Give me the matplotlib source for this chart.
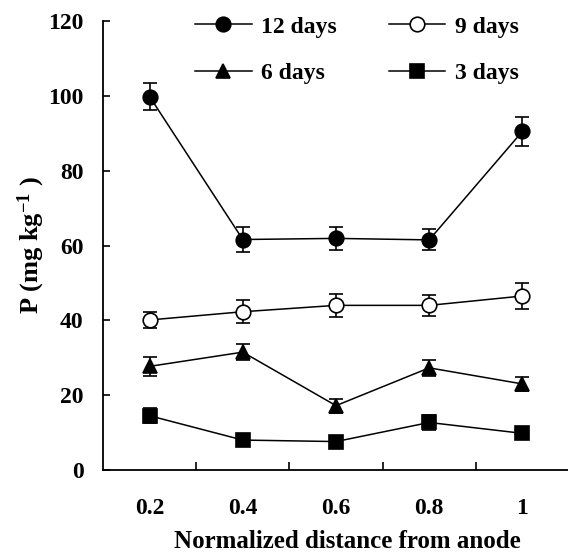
import matplotlib
matplotlib.use("Agg")
import matplotlib.pyplot as plt
import numpy as np

plt.rcParams['font.family'] = ['Liberation Serif', 'DejaVu Serif']
plt.rcParams['font.weight'] = 'bold'
plt.rcParams['mathtext.fontset'] = 'custom'
plt.rcParams['mathtext.rm'] = 'Liberation Serif:bold'
plt.rcParams['mathtext.it'] = 'Liberation Serif:bold'
plt.rcParams['mathtext.bf'] = 'Liberation Serif:bold'
plt.rcParams['mathtext.default'] = 'rm'

distance = [0.2, 0.4, 0.6, 0.8, 1.0]
tick_labels = ['0.2', '0.4', '0.6', '0.8', '1']

days12 = [99.8, 61.6, 61.9, 61.5, 90.5]
days12_err = [3.6, 3.4, 3.0, 2.8, 3.8]
days9 = [40.1, 42.3, 44.0, 44.0, 46.5]
days9_err = [2.2, 3.1, 3.1, 2.9, 3.6]
days6 = [27.7, 31.5, 17.2, 27.3, 23.0]
days6_err = [2.5, 2.1, 1.9, 2.2, 1.8]
days3 = [14.5, 8.0, 7.6, 12.7, 9.8]
days3_err = [2.0, 1.0, 1.0, 2.0, 1.5]

fig = plt.figure(figsize=(5.68, 5.58), dpi=100)
ax = fig.add_axes([103/568, 1-470/558, 466/568, 449/558])

series = [
    ('12 days', days12, days12_err, 'o', 'black'),
    ('9 days', days9, days9_err, 'o', 'white'),
    ('6 days', days6, days6_err, '^', 'black'),
    ('3 days', days3, days3_err, 's', 'black'),
]
handles = {}
for label, vals, err, mk, fc in series:
    ax.errorbar(distance, vals, yerr=err, fmt='none', ecolor='black',
                elinewidth=1.2, capsize=5, capthick=1.2, zorder=2)
    h, = ax.plot(distance, vals, color='black', lw=1.1, marker=mk,
                 markersize=10.5, markerfacecolor=fc, markeredgecolor='black',
                 markeredgewidth=1.2, label=label, zorder=3)
    handles[label] = h

ax.set_xlim(0.1, 1.1)
ax.set_ylim(0, 120)
ax.set_yticks(np.arange(0, 121, 20))
ax.set_xticks(distance)
ax.set_xticklabels(tick_labels)
ax.set_xticks([0.3, 0.5, 0.7, 0.9], minor=True)
ax.tick_params(axis='x', which='major', length=0, pad=20, labelsize=17)
ax.tick_params(axis='x', which='minor', direction='in', length=6, width=1.2)
ax.tick_params(axis='y', direction='in', length=5, width=1.2, pad=14, labelsize=17)
for s in ['top', 'right']:
    ax.spines[s].set_visible(False)
for s in ['left', 'bottom']:
    ax.spines[s].set_linewidth(1.3)

ax.set_ylabel('P (mg kg$^{-1}$ )', fontsize=19, fontweight='bold')
ax.yaxis.set_label_coords(-72/466, 0.5)
ax.yaxis.label.set_va('center')
ax.set_xlabel('Normalized distance from anode', fontsize=18, fontweight='bold')
ax.xaxis.set_label_coords((347-103)/466, -(542-470)/449)
ax.xaxis.label.set_va('center')

order = ['12 days', '6 days', '9 days', '3 days']
leg = fig.legend(handles=[handles[k] for k in order], loc='upper left',
                 bbox_to_anchor=(195/568, 1-16/558), ncol=2, frameon=False,
                 handlelength=2.4, handletextpad=0.4, columnspacing=2.2,
                 labelspacing=1.05, borderpad=0, borderaxespad=0,
                 prop={'family': 'Liberation Serif', 'weight': 'bold', 'size': 17})

fig.savefig('out.png', dpi=100)
